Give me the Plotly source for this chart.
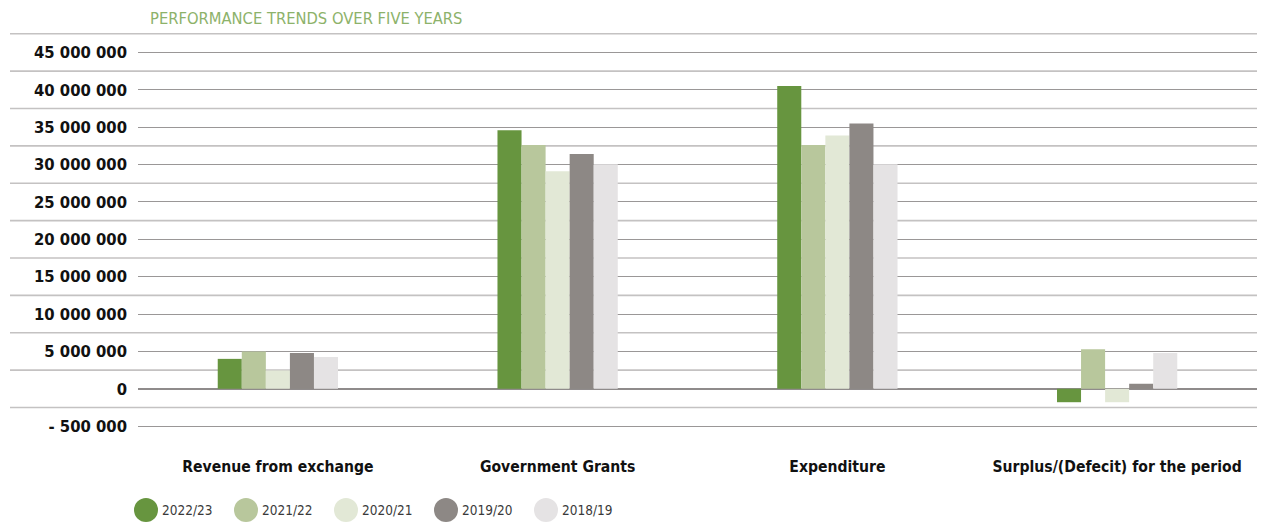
import plotly.graph_objects as go

categories = ["Revenue from exchange", "Government Grants", "Expenditure", "Surplus/(Defecit) for the period"]
series_names = ["2022/23", "2021/22", "2020/21", "2019/20", "2018/19"]
v_2022_23 = [4000000, 34600000, 40500000, -1800000]
v_2021_22 = [5000000, 32600000, 32600000, 5300000]
v_2020_21 = [2450000, 29100000, 33900000, -1800000]
v_2019_20 = [4800000, 31400000, 35500000, 670000]
v_2018_19 = [4250000, 30050000, 30050000, 4800000]
series_values = [v_2022_23, v_2021_22, v_2020_21, v_2019_20, v_2018_19]
colors = ["#67953f", "#b8c79c", "#e2e8d6", "#8d8885", "#e5e3e4"]

tick_vals = [-5000000, 0, 5000000, 10000000, 15000000, 20000000, 25000000,
             30000000, 35000000, 40000000, 45000000]
tick_text = ["- 500 000", "0", "5 000 000", "10 000 000", "15 000 000", "20 000 000",
             "25 000 000", "30 000 000", "35 000 000", "40 000 000", "45 000 000"]
separator_vals = [-2500000, 2500000, 7500000, 12500000, 17500000, 22500000,
                  27500000, 32500000, 37500000, 42500000, 47500000]

FONT = "DejaVu Sans Condensed, Liberation Sans Narrow, Roboto, sans-serif"

fig = go.Figure()
for name, vals, col in zip(series_names, series_values, colors):
    fig.add_trace(go.Bar(x=categories, y=vals, name=name, marker_color=col,
                         marker_line_width=0, showlegend=False))

W, H = 1263, 528
ml, mr, mt, mb = 138, 6, 33, 100
plot_w = W - ml - mr

shapes = []
for sv in separator_vals:
    shapes.append(dict(type="line", xref="paper", yref="y",
                       x0=(10 - ml) / plot_w, x1=1.0, y0=sv, y1=sv,
                       line=dict(color="#c4c2c2", width=1.6), layer="below"))

annotations = [dict(text="PERFORMANCE TRENDS OVER FIVE YEARS", xref="paper", yref="paper",
                    x=(148 - ml) / plot_w, y=1 + (mt - 18) / (H - mt - mb),
                    xanchor="left", yanchor="middle", showarrow=False,
                    font=dict(family=FONT, size=16.4, color="#8db26a"))]
plot_h = H - mt - mb
for i, (name, col) in enumerate(zip(series_names, colors)):
    cx = 146 + i * 100
    cy = 510
    x0 = (cx - 12 - ml) / plot_w
    x1 = (cx + 12 - ml) / plot_w
    y0 = 1 - (cy + 12 - mt) / plot_h
    y1 = 1 - (cy - 12 - mt) / plot_h
    shapes.append(dict(type="circle", xref="paper", yref="paper", x0=x0, x1=x1,
                       y0=y0, y1=y1, fillcolor=col, line=dict(width=0)))
    annotations.append(dict(text=name, xref="paper", yref="paper",
                            x=(cx + 14 - ml) / plot_w, y=1 - (cy - mt) / plot_h,
                            xanchor="left", yanchor="middle", showarrow=False,
                            font=dict(family=FONT, size=13.5, color="#3a3a3a")))

fig.update_layout(
    width=W, height=H,
    margin=dict(l=ml, r=mr, t=mt, b=mb),
    paper_bgcolor="white", plot_bgcolor="white",
    barmode="group", bargap=0.57, bargroupgap=0,
    shapes=shapes, annotations=annotations,
    showlegend=False,
    xaxis=dict(showgrid=False, showline=False, ticks="",
               tickfont=dict(family=FONT, size=15.6, color="#111111", weight="bold"),
               ticklabelstandoff=27),
    yaxis=dict(range=[-5250000, 47600000], tickvals=tick_vals, ticktext=tick_text,
               showgrid=True, gridcolor="#9a9797", gridwidth=1,
               zeroline=True, zerolinecolor="#8f8b8b", zerolinewidth=2,
               showline=False, ticks="", ticklabelstandoff=10,
               tickfont=dict(family=FONT, size=16.5, color="#111111", weight="bold")),
)

fig.write_html("out.html")
